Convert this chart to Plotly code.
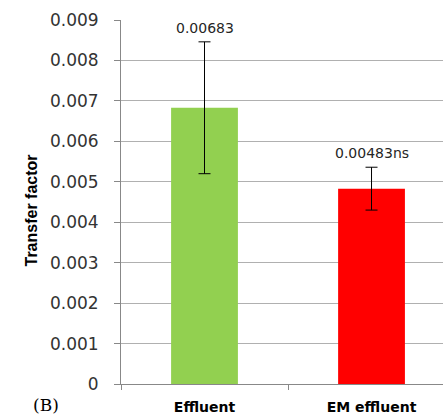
import plotly.graph_objects as go

categories = ["Effluent", "EM effluent"]
values = [0.00683, 0.00483]
errors = [0.00163, 0.00053]
labels = ["0.00683", "0.00483ns"]
colors = ["#92D050", "#FF0000"]
y_ticks = [0, 0.001, 0.002, 0.003, 0.004, 0.005, 0.006, 0.007, 0.008, 0.009]
y_ticktext = ["0", "0.001", "0.002", "0.003", "0.004", "0.005", "0.006", "0.007", "0.008", "0.009"]

fig = go.Figure()
fig.add_trace(go.Bar(
    x=categories, y=values, marker=dict(color=colors, line=dict(width=0)),
    width=0.4,
    error_y=dict(type="data", array=errors, visible=True, color="black", thickness=1, width=6),
    hoverinfo="skip",
))

for c, v, e, t in zip(categories, values, errors, labels):
    fig.add_annotation(x=c, y=v + e, text=t, showarrow=False, yanchor="bottom", yshift=4,
                       font=dict(family="DejaVu Sans", size=14, color="#262626"))

fig.add_annotation(xref="paper", yref="paper", x=-0.3106, y=0.478, text="<b>Transfer factor</b>",
                   textangle=-90, showarrow=False,
                   font=dict(family="Liberation Sans", size=16, color="black"))
fig.add_annotation(xref="paper", yref="paper", x=-0.28, y=-0.058, text="(B)", showarrow=False,
                   yanchor="middle", font=dict(family="DejaVu Serif", size=17, color="black"))

fig.update_layout(
    width=443, height=415,
    margin=dict(l=121, r=0, t=20, b=31),
    paper_bgcolor="white", plot_bgcolor="white",
    showlegend=False,
    xaxis=dict(
        type="category", range=[-0.5, 1.428], tickson="boundaries",
        ticks="outside", ticklen=5, tickcolor="#888888",
        showline=True, linecolor="#888888", linewidth=1,
        tickfont=dict(family="DejaVu Sans", size=14, color="black"),
        tickvals=categories, ticktext=["<b>" + c + "</b>" for c in categories],
        showgrid=False, ticklabelstandoff=10,
    ),
    yaxis=dict(
        range=[0, 0.009], tickvals=y_ticks, ticktext=y_ticktext,
        ticks="outside", ticklen=6, tickcolor="#888888",
        showline=True, linecolor="#888888", linewidth=1,
        showgrid=True, gridcolor="#B0B0B0", gridwidth=1, zeroline=False,
        tickfont=dict(family="DejaVu Sans", size=17, color="#333333"),
        ticklabelstandoff=12,
    ),
)

fig.write_html("out.html")
